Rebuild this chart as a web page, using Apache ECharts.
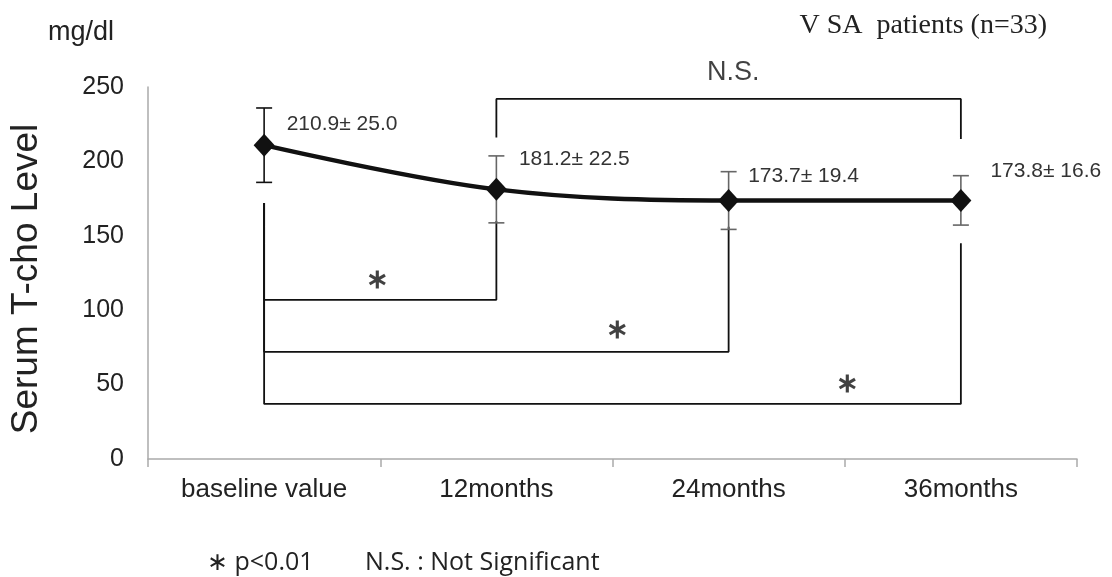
<!DOCTYPE html>
<html><head><meta charset="utf-8">
<script src="https://cdn.jsdelivr.net/npm/echarts@6/dist/echarts.min.js"></script>
<style>html,body{margin:0;padding:0;background:#fff}#c{width:1112px;height:577px}</style>
</head><body><div id="c"></div>
<script>
const categories = ['baseline value', '12months', '24months', '36months'];
const means = [210.9, 181.2, 173.7, 173.8];
const sds = [25.0, 22.5, 19.4, 16.6];
const yTicks = [0, 50, 100, 150, 200, 250];
// significance brackets: [fromIdx, toIdx, barLevel, leftEnd, rightEnd]
const bracketNS = [1, 3, 242, 216, 215];
const bracketsStar = [
  [0, 1, 107, 172, 160],
  [0, 2, 72, 172, 156],
  [0, 3, 37, 172, 145]
];
// annotation marks on a continuous copy of the category axis (index units)
const starPos = [[0.49, 120], [1.52, 86], [2.51, 50]];
const nsLabelPos = [2.02, 260];

// style-only arrays
const labelOffsets = [[7, -21], [7, -30], [4, -24], [14, -29]];
const errColors = ['#111', '#666', '#666', '#666'];

const chart = echarts.init(document.getElementById('c'));
const F = '"Liberation Sans", Arial, sans-serif';

function bracketData(b) {
  return [[b[0], b[3]], [b[0], b[2]], [b[1], b[2]], [b[1], b[4]]];
}
const bracketSeries = [bracketNS].concat(bracketsStar).map(b => ({
  type: 'line', data: bracketData(b), symbol: 'none',
  lineStyle: { color: '#111', width: 1.8 }, silent: true, z: 1
}));

chart.setOption({
  animation: false,
  backgroundColor: '#fff',
  grid: { left: 148, right: 35, top: 87, bottom: 118 },
  xAxis: [{
    type: 'category', data: categories, boundaryGap: true,
    axisLine: { onZero: false, lineStyle: { color: '#aaa', width: 1.5 } },
    axisTick: { show: true, length: 8, lineStyle: { color: '#aaa', width: 1.5 } },
    axisLabel: { color: '#222', fontSize: 26, fontFamily: F, margin: 18 }
  }, {
    type: 'value', min: -0.5, max: 3.5, show: false, position: 'top',
    axisLine: { onZero: false }
  }],
  yAxis: {
    type: 'value', min: 0, max: 250, interval: 50,
    axisLine: { show: true, onZero: false, lineStyle: { color: '#aaa', width: 1.5 } },
    axisTick: { show: false },
    splitLine: { show: false },
    axisLabel: { color: '#222', fontSize: 25, fontFamily: F, margin: 24 }
  },
  graphic: [
    { type: 'text', x: 27, y: 279, rotation: Math.PI / 2, style: { text: 'Serum T-cho Level', fontSize: 37, fontFamily: F, fill: '#222', align: 'center', verticalAlign: 'middle' } },
    { type: 'text', left: 48, top: 19, style: { text: 'mg/dl', fontSize: 27, fontFamily: F, fill: '#222' } },
    { type: 'text', right: 65, top: 12, style: { text: 'V SA  patients (n=33)', fontSize: 28, fontFamily: '"Liberation Serif", serif', fill: '#222' } },
    { type: 'text', left: 207, top: 550, style: { text: '∗ p<0.01', fontSize: 25, fontFamily: '"Open Sans", sans-serif', fill: '#222' } },
    { type: 'text', left: 365, top: 550, style: { text: 'N.S. : Not Significant', fontSize: 25, fontFamily: '"Open Sans", sans-serif', fill: '#222' } }
  ],
  series: [
    ...bracketSeries,
    {
      type: 'custom', z: 3, silent: true,
      data: means.map((m, i) => [i, m - sds[i], m + sds[i]]),
      renderItem: function (params, api) {
        const i = api.value(0);
        const lo = api.coord([i, api.value(1)]);
        const hi = api.coord([i, api.value(2)]);
        const w = 8;
        const st = { stroke: errColors[params.dataIndex], lineWidth: 1.6 };
        return {
          type: 'group', children: [
            { type: 'line', shape: { x1: lo[0], y1: lo[1], x2: hi[0], y2: hi[1] }, style: st },
            { type: 'line', shape: { x1: lo[0] - w, y1: lo[1], x2: lo[0] + w, y2: lo[1] }, style: st },
            { type: 'line', shape: { x1: hi[0] - w, y1: hi[1], x2: hi[0] + w, y2: hi[1] }, style: st }
          ]
        };
      }
    },
    {
      type: 'line', z: 5, data: means.map((m, i) => ({
        value: m,
        label: { offset: labelOffsets[i] }
      })),
      smooth: 0.35, symbol: 'diamond', symbolSize: [21, 23],
      itemStyle: { color: '#111' },
      lineStyle: { color: '#111', width: 4.5 },
      label: {
        show: true, position: 'right', color: '#333', fontSize: 21, fontFamily: F,
        formatter: p => means[p.dataIndex].toFixed(1) + '± ' + sds[p.dataIndex].toFixed(1),
        align: 'left'
      }
    },
    {
      type: 'scatter', xAxisIndex: 1, z: 4, symbol: 'circle', symbolSize: 1, silent: true, clip: false,
      itemStyle: { color: 'rgba(0,0,0,0)' },
      data: starPos,
      label: { show: true, position: 'inside', formatter: '∗', fontSize: 27, fontWeight: 'bold', color: '#111', fontFamily: F }
    },
    {
      type: 'scatter', xAxisIndex: 1, z: 4, symbol: 'circle', symbolSize: 1, silent: true, clip: false,
      itemStyle: { color: 'rgba(0,0,0,0)' },
      data: [nsLabelPos],
      label: { show: true, position: 'inside', formatter: 'N.S.', fontSize: 27, color: '#111', fontFamily: F }
    }
  ]
});
</script></body></html>
